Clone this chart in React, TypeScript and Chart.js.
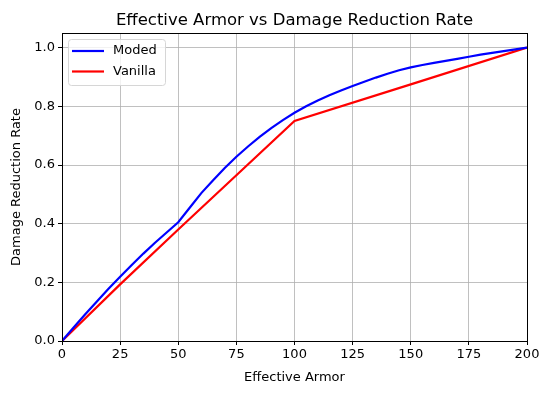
import React, { useEffect, useRef } from "react";
import { Chart, registerables } from "chart.js";

Chart.register(...registerables);

const titleText = "Effective Armor vs Damage Reduction Rate";
const armor: number[] = [0, 5, 10, 15, 20, 25, 30, 35, 40, 45, 50, 55, 60, 65, 70, 75, 80, 85, 90, 95, 100, 105, 110, 115, 120, 125, 130, 135, 140, 145, 150, 155, 160, 165, 170, 175, 180, 185, 190, 195, 200];
const moded: number[] = [0, 0.046, 0.091, 0.135, 0.178, 0.219, 0.259, 0.298, 0.335, 0.37, 0.405, 0.455, 0.505, 0.548, 0.59, 0.628, 0.663, 0.696, 0.726, 0.753, 0.778, 0.8, 0.82, 0.838, 0.854, 0.869, 0.884, 0.898, 0.911, 0.923, 0.933, 0.941, 0.948, 0.955, 0.962, 0.969, 0.976, 0.982, 0.988, 0.994, 1.0];
const vanillaX: number[] = [0, 25, 50, 75, 100, 150, 200];
const vanilla: number[] = [0, 0.193, 0.38, 0.565, 0.75, 0.875, 1.0];
const seriesNames: string[] = ["Moded", "Vanilla"];
const seriesColors: string[] = ["blue", "red"];

const FONT = "'DejaVu Sans', sans-serif";

const framePlugin = {
  id: "frame",
  afterDatasetsDraw(chart: any) {
    const { ctx, chartArea } = chart;
    ctx.save();
    // title centred over plot area
    ctx.fillStyle = "black";
    ctx.font = `16.5px ${FONT}`;
    ctx.textAlign = "center";
    ctx.textBaseline = "alphabetic";
    ctx.fillText(titleText, (chartArea.left + chartArea.right) / 2, 25);
    ctx.strokeStyle = "black";
    ctx.lineWidth = 1;
    ctx.strokeRect(Math.round(chartArea.left) + 0.5, Math.round(chartArea.top) + 0.5, Math.round(chartArea.right - chartArea.left), Math.round(chartArea.bottom - chartArea.top));
    // legend
    const x0 = chartArea.left + 6;
    const y0 = chartArea.top + 6;
    const w = 97;
    const h = 46;
    const r = 3;
    ctx.globalAlpha = 0.8;
    ctx.fillStyle = "white";
    ctx.beginPath();
    ctx.roundRect(x0 + 0.5, y0 + 0.5, w, h, r);
    ctx.fill();
    ctx.globalAlpha = 1;
    ctx.strokeStyle = "#d6d6d6";
    ctx.stroke();
    ctx.font = `13px ${FONT}`;
    ctx.textBaseline = "middle";
    ctx.textAlign = "left";
    seriesNames.forEach((name, i) => {
      const yy = y0 + 12 + i * 20.5;
      ctx.strokeStyle = seriesColors[i];
      ctx.lineWidth = 2.2;
      ctx.beginPath();
      ctx.moveTo(x0 + 4, yy);
      ctx.lineTo(x0 + 36, yy);
      ctx.stroke();
      ctx.fillStyle = "black";
      ctx.fillText(name, x0 + 45, yy);
    });
    ctx.restore();
  },
};

export default function App() {
  const ref = useRef<HTMLCanvasElement>(null);
  useEffect(() => {
    document.body.style.margin = "0";
    const chart = new Chart(ref.current!, {
      type: "line",
      data: {
        datasets: [
          {
            label: seriesNames[0],
            data: armor.map((x, i) => ({ x, y: moded[i] })),
            borderColor: seriesColors[0],
            backgroundColor: seriesColors[0],
            borderWidth: 2.2,
            pointRadius: 0,
            tension: 0,
          },
          {
            label: seriesNames[1],
            data: vanillaX.map((x, i) => ({ x, y: vanilla[i] })),
            borderColor: seriesColors[1],
            backgroundColor: seriesColors[1],
            borderWidth: 2.2,
            pointRadius: 0,
            tension: 0,
          },
        ],
      },
      options: {
        animation: false,
        responsive: false,
        events: [],
        layout: { padding: { left: 0, right: 22, top: 33, bottom: 0 } },
        plugins: {
          legend: { display: false },
          tooltip: { enabled: false },
          title: { display: false },
        },
        scales: {
          x: {
            type: "linear",
            min: 0,
            max: 200,
            ticks: { stepSize: 25, color: "black", font: { family: FONT, size: 13 }, padding: 2, maxRotation: 0 },
            grid: { color: "#b0b0b0", lineWidth: 0.8, tickColor: "black", tickLength: 4, tickWidth: 1 },
            border: { color: "black", width: 1 },
            title: { display: true, text: "Effective Armor", color: "black", font: { family: FONT, size: 13 }, padding: { top: 0, bottom: 8 } },
            afterFit(scale: any) {
              scale.height = 52;
            },
          },
          y: {
            type: "linear",
            min: 0,
            max: 1.05,
            ticks: {
              stepSize: 0.2,
              includeBounds: false,
              color: "black",
              font: { family: FONT, size: 13 },
              padding: 3,
              callback: (v: any) => Number(v).toFixed(1),
            },
            grid: { color: "#b0b0b0", lineWidth: 0.8, tickColor: "black", tickLength: 4, tickWidth: 1 },
            border: { color: "black", width: 1 },
            title: { display: true, text: "Damage Reduction Rate", color: "black", font: { family: FONT, size: 13 }, padding: { top: 9, bottom: 0 } },
            afterFit(scale: any) {
              scale.width = 62;
            },
          },
        },
      },
      plugins: [framePlugin],
    } as any);
    return () => chart.destroy();
  }, []);
  return (
    <div style={{ width: 549, height: 393, background: "white" }}>
      <canvas ref={ref} width={549} height={393} />
    </div>
  );
}
